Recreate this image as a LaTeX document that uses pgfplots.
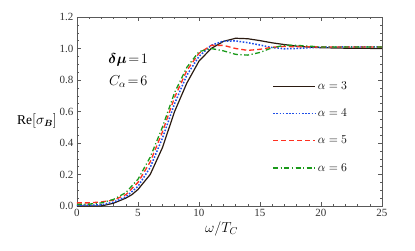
\documentclass[border=0pt]{standalone}
\usepackage{amsmath}
\usepackage{bm}
\usepackage{fontspec}
\setmainfont{Liberation Serif}
\usepackage{pgfplots}
\pgfplotsset{compat=1.18}
\definecolor{cblack}{HTML}{2A1A10}
\definecolor{cblue}{HTML}{1F4FE8}
\definecolor{cred}{HTML}{FF3020}
\definecolor{cgreen}{HTML}{1A9A1A}
\begin{document}
\begin{tikzpicture}[x=1pt,y=1pt]
\begin{axis}[
  at={(0,0)}, anchor=south west,
  scale only axis, width=305pt, height=189pt,
  xmin=0, xmax=25, ymin=0, ymax=1.2,
  xtick={0,5,10,15,20,25},
  ytick={0,0.2,0.4,0.6,0.8,1.0,1.2},
  minor x tick num=4, minor y tick num=3,
  yticklabel style={/pgf/number format/.cd,fixed,fixed zerofill,precision=1},
  /pgf/number format/assume math mode=true,
  tick align=inside,
  major tick length=4pt, minor tick length=2pt,
  tick style={gray!70!black, line width=0.4pt},
  axis line style={gray!70!black, line width=0.5pt},
  ticklabel style={font=\fontsize{11}{11}\selectfont, text=black!80},
  xlabel={$\omega/T_C$},
  ylabel={$\mathrm{Re}[\sigma_{\bm{B}}]$},
  xlabel style={font=\fontsize{14}{14}\selectfont, xshift=-8pt, yshift=2pt},
  ylabel style={font=\fontsize{13.5}{13.5}\selectfont, rotate=-90, at={(axis description cs:0,0.47)}, anchor=center, xshift=-40pt, yshift=-4pt},
  legend style={draw=none, fill=none, at={(axis cs:16.0,0.803)}, anchor=north west,
    font=\fontsize{11.5}{11.5}\selectfont, row sep=14pt, inner sep=0pt},
  legend cell align=left,
  legend image code/.code={\draw[#1] (0pt,0pt) -- (25pt,0pt); \path (0pt,0pt) -- (42pt,0pt);},
  clip=true,
]
\addplot[cblack, line width=1.2pt] coordinates {
(0,0) (1,0) (2,0) (3,0.018) (4,0.05) (4.5,0.072) (5,0.105) (6,0.2) (7,0.37) (8,0.6) (9,0.78) (10,0.92) (11,1.0) (12,1.045) (13,1.065) (14,1.062) (15,1.05) (16,1.036) (17,1.025) (18,1.015) (19,1.009) (20,1.005) (22,1.002) (25,1.0)};
\addlegendentry{$\alpha = 3$}
\addplot[cblue, line width=1.5pt, dash pattern=on 1.6pt off 1.6pt] coordinates {
(0,0.005) (1,0.005) (2,0.008) (3,0.025) (4,0.058) (5,0.125) (6,0.245) (7,0.43) (8,0.65) (9,0.83) (10,0.95) (11,1.02) (12,1.047) (13,1.048) (14,1.037) (15,1.022) (16,1.006) (17,0.998) (18,1.0) (19,1.005) (20,1.008) (22,1.01) (25,1.01)};
\addlegendentry{$\alpha = 4$}
\addplot[cred, line width=1.3pt, dash pattern=on 5pt off 3pt] coordinates {
(0,0.02) (1,0.02) (2,0.026) (3,0.037) (4,0.072) (5,0.15) (6,0.28) (7,0.47) (8,0.69) (9,0.86) (10,0.97) (11,1.02) (12,1.02) (13,1.0) (14,0.988) (15,0.995) (16,1.008) (17,1.013) (18,1.011) (20,1.01) (25,1.01)};
\addlegendentry{$\alpha = 5$}
\addplot[cgreen, line width=1.3pt, dash pattern=on 5pt off 2.5pt on 1.2pt off 2.5pt] coordinates {
(0,0.01) (1,0.012) (2,0.02) (3,0.042) (4,0.085) (5,0.17) (6,0.31) (7,0.5) (8,0.72) (9,0.88) (10,0.98) (11,1.0) (12,0.985) (13,0.963) (14,0.958) (15,0.975) (16,1.005) (17,1.02) (18,1.02) (19,1.015) (20,1.01) (25,1.01)};
\addlegendentry{$\alpha = 6$}
\node[font=\fontsize{15}{15}\selectfont, anchor=center] at (axis cs:4.2,0.925) {$\bm{\delta\mu}\!=\!1$};
\node[font=\fontsize{14}{14}\selectfont, anchor=center] at (axis cs:4.2,0.79) {$C_{\alpha}\!=\!6$};
\end{axis}
\path[use as bounding box] (-77pt,-44pt) rectangle (338pt,206pt);
\end{tikzpicture}
\end{document}
